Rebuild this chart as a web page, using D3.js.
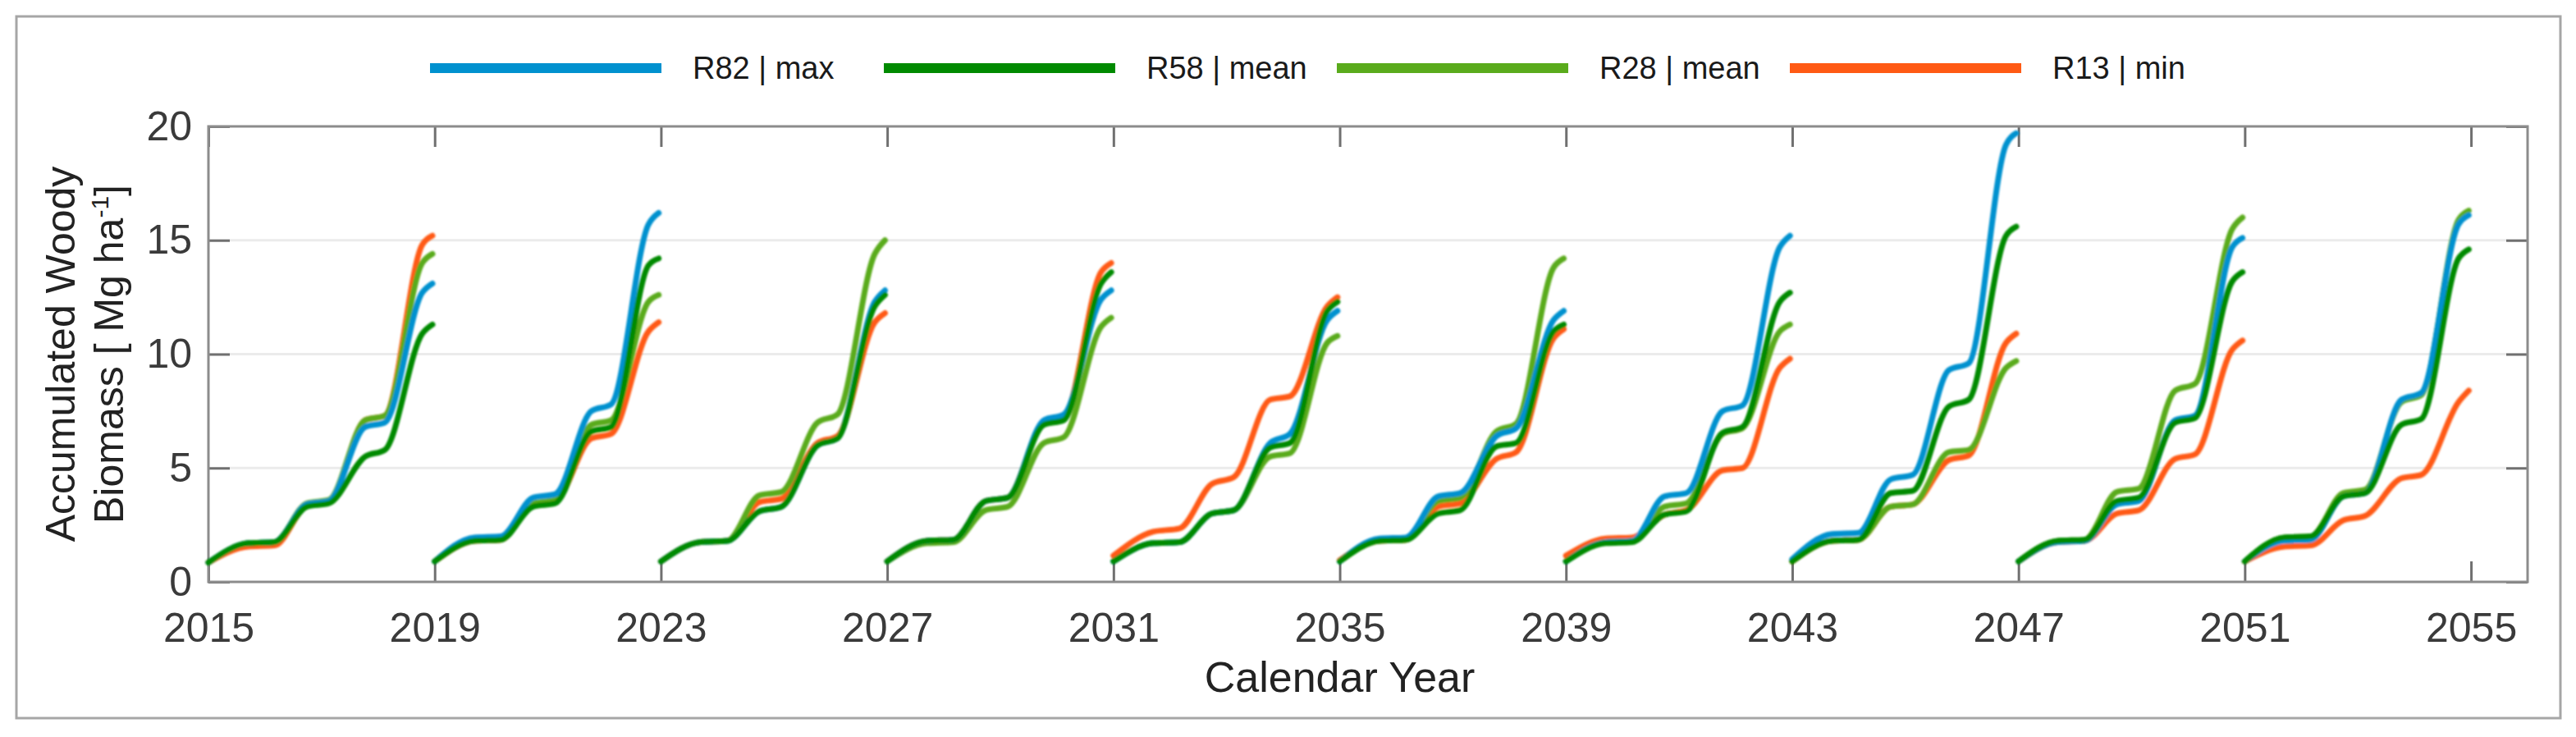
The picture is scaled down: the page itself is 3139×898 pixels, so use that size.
<!DOCTYPE html>
<html>
<head>
<meta charset="utf-8">
<script src="https://cdn.jsdelivr.net/npm/d3@7"></script>
<style>
  html, body { margin: 0; padding: 0; background: #ffffff; }
  svg { display: block; }
  text { font-family: "Liberation Sans", Arial, Helvetica, sans-serif; }
</style>
</head>
<body>
<svg id="chart" width="3139" height="898"></svg>
<script>
// ---------------- DATA ----------------
const cycleStarts = [2015, 2019, 2023, 2027, 2031, 2035, 2039, 2043, 2047, 2051];
// offsets (years since cycle start) at which values were read
const sampleOffsets = [0, 0.7, 1.17, 1.74, 2.13, 2.77, 3.12, 3.78, 3.96];

const r82Max = [
  [0.85, 1.7, 1.75, 3.4, 3.55, 6.8, 7.0, 12.7, 13.1],
  [0.9, 1.95, 2.0, 3.7, 3.85, 7.5, 7.8, 15.7, 16.2],
  [0.9, 1.75, 1.8, 3.1, 3.3, 6.0, 6.3, 12.3, 12.8],
  [0.9, 1.8, 1.85, 3.55, 3.7, 7.1, 7.35, 12.4, 12.8],
  [0.9, 1.7, 1.75, 3.0, 3.15, 6.1, 6.5, 11.5, 11.9],
  [0.9, 1.9, 1.95, 3.75, 3.9, 6.4, 6.75, 11.5, 11.9],
  [0.9, 1.75, 1.8, 3.75, 3.9, 7.5, 7.75, 14.7, 15.2],
  [1.0, 2.1, 2.15, 4.5, 4.7, 9.3, 9.6, 19.2, 19.7],
  [0.9, 1.75, 1.8, 3.4, 3.55, 7.1, 7.3, 14.7, 15.1],
  [0.9, 1.8, 1.85, 3.75, 3.9, 8.0, 8.3, 15.7, 16.1]
];
const r58Mean = [
  [0.85, 1.7, 1.75, 3.3, 3.45, 5.5, 5.8, 10.9, 11.3],
  [0.9, 1.8, 1.85, 3.3, 3.45, 6.6, 6.8, 13.9, 14.2],
  [0.9, 1.75, 1.8, 3.1, 3.3, 6.0, 6.3, 12.1, 12.6],
  [0.9, 1.8, 1.85, 3.55, 3.7, 6.9, 7.1, 13.1, 13.6],
  [0.9, 1.7, 1.75, 3.0, 3.15, 5.9, 6.1, 11.9, 12.3],
  [0.9, 1.8, 1.85, 3.0, 3.15, 5.95, 6.1, 11.0, 11.3],
  [0.9, 1.7, 1.75, 2.95, 3.1, 6.55, 6.8, 12.3, 12.7],
  [0.9, 1.8, 1.85, 3.9, 4.0, 7.7, 8.0, 15.2, 15.6],
  [0.9, 1.8, 1.85, 3.55, 3.7, 7.0, 7.2, 13.2, 13.6],
  [0.9, 1.95, 2.0, 3.75, 3.9, 6.9, 7.15, 14.2, 14.6]
];
const r28Mean = [
  [0.85, 1.7, 1.75, 3.45, 3.6, 7.1, 7.3, 14.0, 14.4],
  [0.9, 1.85, 1.9, 3.45, 3.6, 6.9, 7.1, 12.3, 12.6],
  [0.9, 1.75, 1.8, 3.8, 3.95, 7.0, 7.35, 14.4, 15.0],
  [0.9, 1.7, 1.75, 3.15, 3.3, 6.1, 6.35, 11.2, 11.6],
  [0.9, 1.7, 1.75, 3.0, 3.15, 5.5, 5.65, 10.5, 10.8],
  [0.9, 1.8, 1.85, 3.55, 3.7, 6.6, 6.95, 13.8, 14.2],
  [0.9, 1.75, 1.8, 3.3, 3.45, 6.5, 6.75, 11.0, 11.3],
  [0.9, 1.8, 1.85, 3.3, 3.4, 5.7, 5.8, 9.4, 9.7],
  [0.9, 1.8, 1.85, 3.95, 4.1, 8.4, 8.7, 15.5, 16.0],
  [0.9, 1.95, 2.0, 3.9, 4.05, 7.9, 8.2, 15.9, 16.3]
];
const r13Min = [
  [0.85, 1.55, 1.6, 3.35, 3.5, 7.1, 7.3, 14.8, 15.2],
  [0.9, 1.8, 1.85, 3.4, 3.55, 6.3, 6.5, 11.0, 11.4],
  [0.9, 1.75, 1.8, 3.5, 3.65, 6.1, 6.4, 11.4, 11.8],
  [0.9, 1.8, 1.85, 3.55, 3.7, 7.0, 7.2, 13.6, 14.0],
  [1.15, 2.2, 2.35, 4.3, 4.6, 8.0, 8.15, 12.1, 12.5],
  [0.95, 1.8, 1.85, 3.3, 3.45, 5.4, 5.7, 10.7, 11.1],
  [1.15, 1.9, 1.95, 2.95, 3.15, 4.9, 5.0, 9.4, 9.8],
  [0.9, 1.8, 1.85, 3.3, 3.4, 5.35, 5.55, 10.5, 10.9],
  [0.9, 1.75, 1.8, 3.0, 3.15, 5.4, 5.6, 10.2, 10.6],
  [0.9, 1.55, 1.6, 2.7, 2.9, 4.55, 4.7, 7.9, 8.4]
];

const seriesNames = ["R82 | max", "R58 | mean", "R28 | mean", "R13 | min"];
const seriesColors = ["#0091cf", "#008a00", "#5aab1c", "#ff5a14"];
const xTicks = [2015, 2019, 2023, 2027, 2031, 2035, 2039, 2043, 2047, 2051, 2055];
const yTicks = [0, 5, 10, 15, 20];
const yGrid = [5, 10, 15];

// ---------------- CHART ----------------
const svg = d3.select("#chart");
const L = 254, R = 3080, T = 154, B = 709;

const x = d3.scaleLinear().domain([2015, 2056]).range([L, R]);
const y = d3.scaleLinear().domain([0, 20]).range([B, T]);

// outer frame
svg.append("rect")
  .attr("x", 20).attr("y", 20).attr("width", 3100).attr("height", 855)
  .attr("fill", "none").attr("stroke", "#a6a6a6").attr("stroke-width", 3);

// grid
svg.append("g").selectAll("line").data(yGrid).join("line")
  .attr("x1", L).attr("x2", R)
  .attr("y1", d => y(d)).attr("y2", d => y(d))
  .attr("stroke", "#ebebeb").attr("stroke-width", 3);

// axes
const tickColor = "#707070";
function styleAxis(g) {
  g.select(".domain").remove();
  g.selectAll(".tick line").attr("stroke", tickColor).attr("stroke-width", 3);
  g.selectAll(".tick text").attr("fill", "#3a3a3a").attr("font-size", 50)
    .style("font-family", '"Liberation Sans", Arial, sans-serif');
}
svg.append("g").attr("transform", `translate(0,${B})`)
  .call(d3.axisBottom(x).tickValues(xTicks).tickFormat(d3.format("d"))
    .tickSizeInner(-25).tickSizeOuter(0).tickPadding(37))
  .call(styleAxis);
svg.append("g").attr("transform", `translate(0,${T})`)
  .call(d3.axisTop(x).tickValues(xTicks).tickFormat("")
    .tickSizeInner(-25).tickSizeOuter(0))
  .call(styleAxis);
svg.append("g").attr("transform", `translate(${L},0)`)
  .call(d3.axisLeft(y).tickValues(yTicks).tickFormat(d3.format("d"))
    .tickSizeInner(-26).tickSizeOuter(0).tickPadding(20))
  .call(styleAxis);
svg.append("g").attr("transform", `translate(${R},0)`)
  .call(d3.axisRight(y).tickValues(yTicks).tickFormat("")
    .tickSizeInner(-26).tickSizeOuter(0))
  .call(styleAxis);

// plot box
svg.append("rect")
  .attr("x", L).attr("y", T).attr("width", R - L).attr("height", B - T)
  .attr("fill", "none").attr("stroke", "#8c8c8c").attr("stroke-width", 3);

// lines
const defs = svg.append("defs");
defs.append("filter").attr("id", "soft")
  .append("feGaussianBlur").attr("stdDeviation", 0.8);

const line = d3.line()
  .x(d => x(d[0]))
  .y(d => y(d[1]))
  .curve(d3.curveMonotoneX);

const allSeries = [r82Max, r58Mean, r28Mean, r13Min];
const drawOrder = [3, 2, 0, 1]; // orange, light green, blue, dark green on top
const linesG = svg.append("g").attr("filter", "url(#soft)");
drawOrder.forEach(si => {
  allSeries[si].forEach((vals, ci) => {
    const pts = vals.map((v, k) => [cycleStarts[ci] + sampleOffsets[k], v]);
    linesG.append("path")
      .attr("d", line(pts))
      .attr("fill", "none")
      .attr("stroke", seriesColors[si])
      .attr("stroke-width", 7)
      .attr("stroke-linecap", "round")
      .attr("stroke-linejoin", "round");
  });
});

// axis titles
svg.append("text")
  .attr("x", (x(2015) + x(2055)) / 2).attr("y", 843)
  .attr("text-anchor", "middle").attr("font-size", 52).attr("fill", "#222")
  .text("Calendar Year");

const yc = (T + B) / 2;
const yl = svg.append("text")
  .attr("transform", `translate(91,${yc}) rotate(-90)`)
  .attr("text-anchor", "middle").attr("font-size", 50).attr("fill", "#222");
yl.text("Accumulated Woody");

const yl2 = svg.append("text")
  .attr("transform", `translate(150,${yc}) rotate(-90)`)
  .attr("text-anchor", "middle").attr("font-size", 50).attr("fill", "#222");
yl2.append("tspan").text("Biomass [ Mg ha");
yl2.append("tspan").attr("font-size", 30).attr("dy", -18).text("-1");
yl2.append("tspan").attr("dy", 18).text("]");

// legend
const legendX = [524, 1077, 1629, 2181];
const lg = svg.append("g");
seriesNames.forEach((name, i) => {
  lg.append("line")
    .attr("x1", legendX[i]).attr("x2", legendX[i] + 282)
    .attr("y1", 83).attr("y2", 83)
    .attr("stroke", seriesColors[i]).attr("stroke-width", 12);
  lg.append("text")
    .attr("x", legendX[i] + 320).attr("y", 96)
    .attr("font-size", 38).attr("fill", "#1a1a1a")
    .text(name);
});
</script>
</body>
</html>
